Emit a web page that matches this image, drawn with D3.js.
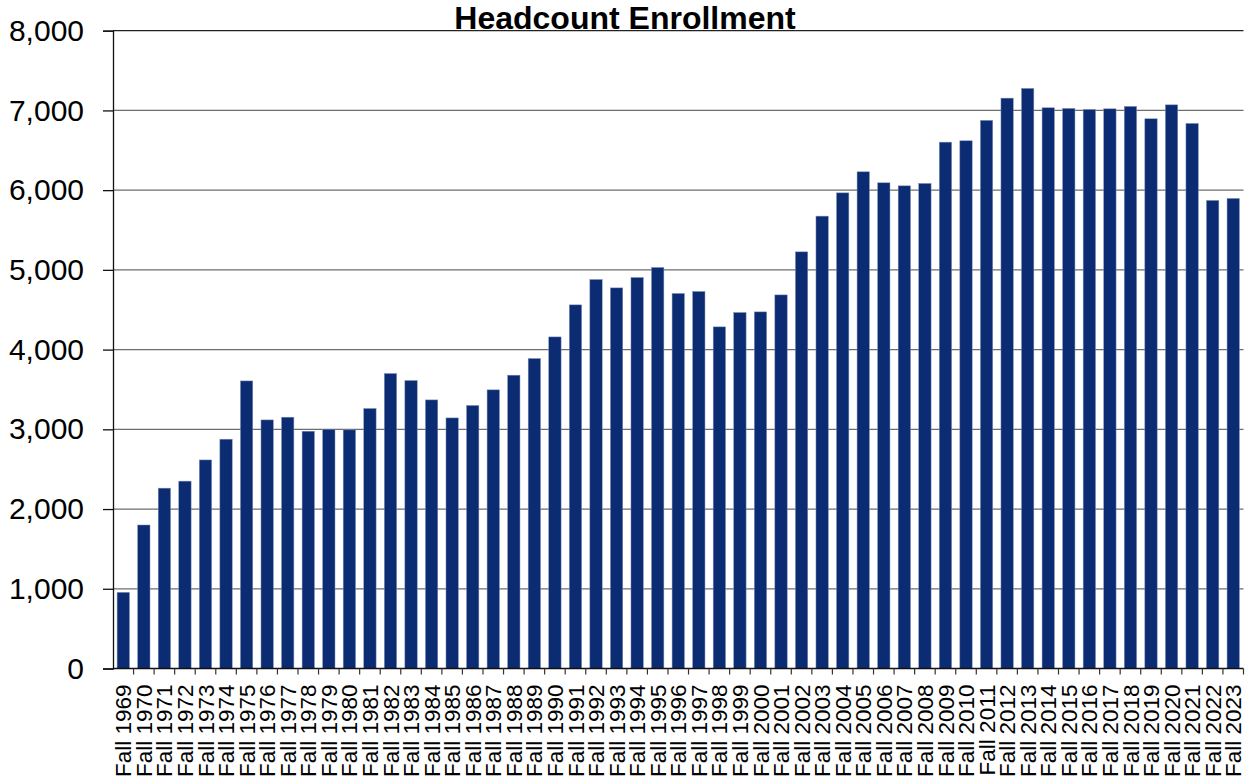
<!DOCTYPE html>
<html>
<head>
<meta charset="utf-8">
<script src="https://cdn.jsdelivr.net/npm/d3@7"></script>
<style>
  body { margin: 0; background: #fff; }
  text { font-family: "Liberation Sans", Arial, sans-serif; }
</style>
</head>
<body>
<script>

    const years = ['Fall 1969','Fall 1970','Fall 1971','Fall 1972','Fall 1973','Fall 1974','Fall 1975','Fall 1976','Fall 1977','Fall 1978',
                   'Fall 1979','Fall 1980','Fall 1981','Fall 1982','Fall 1983','Fall 1984','Fall 1985','Fall 1986','Fall 1987','Fall 1988',
                   'Fall 1989','Fall 1990','Fall 1991','Fall 1992','Fall 1993','Fall 1994','Fall 1995','Fall 1996','Fall 1997','Fall 1998',
                   'Fall 1999','Fall 2000','Fall 2001','Fall 2002','Fall 2003','Fall 2004','Fall 2005','Fall 2006','Fall 2007','Fall 2008',
                   'Fall 2009','Fall 2010','Fall 2011','Fall 2012','Fall 2013','Fall 2014','Fall 2015','Fall 2016','Fall 2017','Fall 2018',
                   'Fall 2019','Fall 2020','Fall 2021','Fall 2022','Fall 2023'];

    const headcount = [955, 1800, 2262, 2350, 2616, 2876, 3607, 3118, 3152, 2976,
                       3001, 2993, 3261, 3700, 3612, 3369, 3143, 3299, 3495, 3679,
                       3888, 4159, 4561, 4879, 4774, 4904, 5030, 4704, 4729, 4285,
                       4465, 4473, 4686, 5226, 5674, 5966, 6230, 6092, 6054, 6084,
                       6602, 6619, 6875, 7154, 7276, 7033, 7025, 7012, 7020, 7050,
                       6895, 7070, 6837, 5871, 5896];

    const yTicks = [0, 1000, 2000, 3000, 4000, 5000, 6000, 7000, 8000];

    const chartTitle = 'Headcount Enrollment';

    const width = 1247;
    const height = 784;
    const plotLeft = 113, plotRight = 1243.5, plotTop = 30.7, plotBottom = 668.5;

    const xScale = d3.scaleBand()
                        .domain(years)
                        .range([plotLeft, plotRight])
                        .paddingInner(0.4)
                        .paddingOuter(0.2);

    const yScale = d3.scaleLinear()
                        .domain([0, 8000])
                        .range([plotBottom, plotTop]);

    let svg = d3.select('body')
                .append('svg')
                    .attr('width', width)
                    .attr('height', height);

    // gridlines
    svg.append('g')
        .selectAll('line')
        .data(yTicks.filter(d => d > 0))
        .enter()
            .append('line')
                .attr('x1', plotLeft)
                .attr('x2', plotRight)
                .attr('y1', d => yScale(d))
                .attr('y2', d => yScale(d))
                .attr('stroke', d => d === 8000 ? '#222' : '#6e6e6e')
                .attr('stroke-width', 1.3);

    // bars
    svg.append('g')
        .selectAll('rect')
        .data(headcount)
        .enter()
            .append('rect')
                .attr('x', (d, i) => xScale(years[i]))
                .attr('y', d => yScale(d))
                .attr('width', xScale.bandwidth())
                .attr('height', d => plotBottom - yScale(d))
                .attr('fill', '#0b2c73')
                .attr('stroke', '#7e8fb5')
                .attr('stroke-width', 0.5);

    // y axis
    let yAxis = svg.append('g')
        .attr('transform', `translate(${plotLeft},0)`)
        .call(d3.axisLeft(yScale).tickValues(yTicks).tickFormat(d3.format(',')).tickSize(10).tickPadding(19));
    yAxis.select('.domain').attr('stroke', '#111').attr('stroke-width', 1.3);
    yAxis.selectAll('.tick line').attr('stroke', '#111').attr('stroke-width', 1.3);
    yAxis.selectAll('.tick text')
        .attr('fill', '#000')
        .style('font-size', '30px')
        .style('font-family', '"Liberation Sans", Arial, sans-serif');

    // x axis line
    svg.append('line')
        .attr('x1', plotLeft).attr('x2', plotRight)
        .attr('y1', plotBottom).attr('y2', plotBottom)
        .attr('stroke', '#111').attr('stroke-width', 1.3);

    // x tick marks between categories
    const step = xScale.step();
    svg.append('g')
        .selectAll('line')
        .data(years)
        .enter()
            .append('line')
                .attr('x1', d => xScale(d) - step * 0.2 + step)
                .attr('x2', d => xScale(d) - step * 0.2 + step)
                .attr('y1', plotBottom)
                .attr('y2', plotBottom + 6)
                .attr('stroke', '#333')
                .attr('stroke-width', 1.2);

    // x labels
    svg.append('g')
        .selectAll('text')
        .data(years)
        .enter()
            .append('text')
                .attr('transform', d => `translate(${xScale(d) + xScale.bandwidth() / 2},${plotBottom + 16}) rotate(-90)`)
                .attr('text-anchor', 'end')
                .attr('dy', '0.36em')
                .style('font-size', '22.5px')
                .attr('fill', '#000')
                .text(d => d);

    // title
    svg.append('text')
        .attr('x', 625)
        .attr('y', 28.5)
        .attr('text-anchor', 'middle')
        .style('font-size', '32px')
        .style('font-weight', 'bold')
        .text(chartTitle);

</script>
</body>
</html>
